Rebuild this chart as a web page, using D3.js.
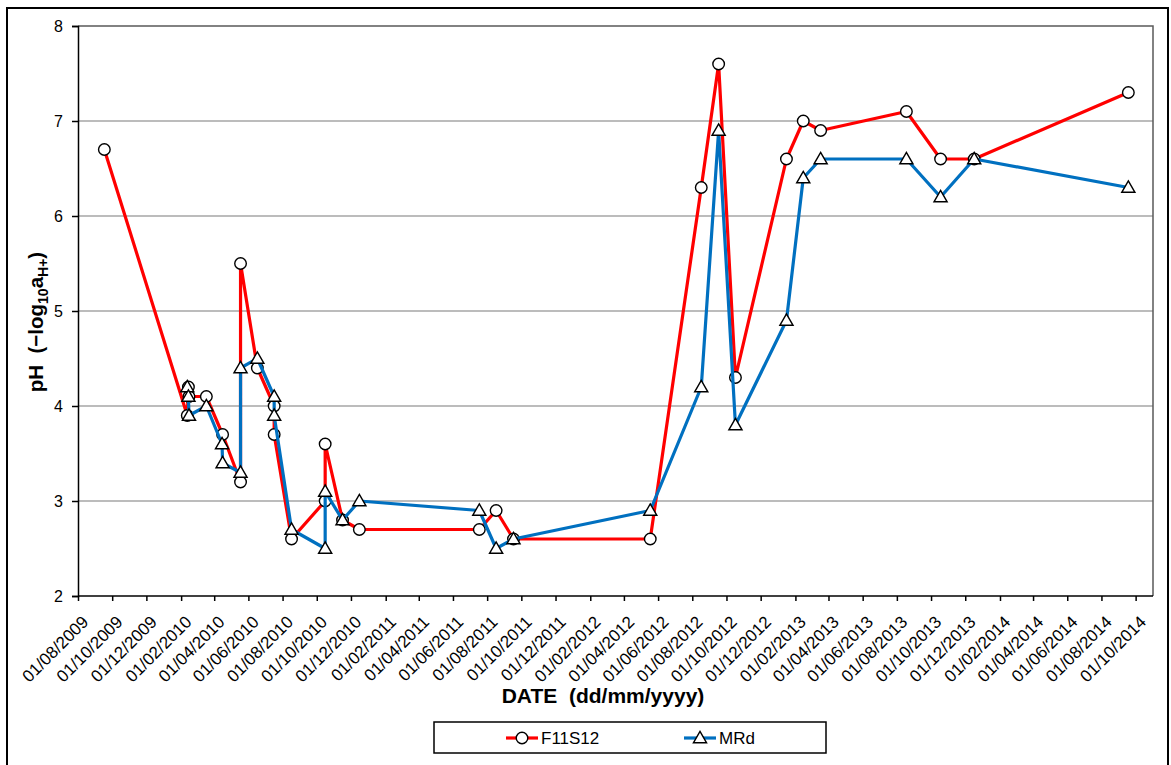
<!DOCTYPE html>
<html>
<head>
<meta charset="utf-8">
<script src="https://cdn.jsdelivr.net/npm/d3@7"></script>
<style>
  html, body { margin: 0; padding: 0; background: #fff; }
  svg text { font-family: Arial, "Liberation Sans", sans-serif; white-space: pre; }
</style>
</head>
<body>
<svg id="chart" width="1171" height="765"></svg>
<script>
// Sampling dates and pH readings for the two monitoring points
const f11Dates = ["2009-09-17", "2010-02-12", "2010-02-14", "2010-02-15", "2010-03-18",
  "2010-04-16", "2010-05-18", "2010-05-18", "2010-06-17", "2010-07-17", "2010-07-17",
  "2010-08-17", "2010-10-16", "2010-10-16", "2010-11-16", "2010-12-16", "2011-07-18",
  "2011-08-17", "2011-09-17", "2012-05-18", "2012-08-17", "2012-09-17", "2012-10-17",
  "2013-01-16", "2013-02-15", "2013-03-18", "2013-08-18", "2013-10-18", "2013-12-17",
  "2014-09-18"];
const f11Ph = [6.7, 3.9, 4.2, 4.1, 4.1,
  3.7, 3.2, 5.5, 4.4, 4.0, 3.7,
  2.6, 3.0, 3.6, 2.8, 2.7, 2.7,
  2.9, 2.6, 2.6, 6.3, 7.6, 4.3,
  6.6, 7.0, 6.9, 7.1, 6.6, 6.6,
  7.3];

const mrdDates = ["2010-02-12", "2010-02-14", "2010-02-15", "2010-03-18", "2010-04-15",
  "2010-04-16", "2010-05-18", "2010-05-18", "2010-06-17", "2010-07-17", "2010-07-17",
  "2010-08-17", "2010-10-16", "2010-10-16", "2010-11-16", "2010-12-16", "2011-07-18",
  "2011-08-17", "2011-09-17", "2012-05-18", "2012-08-17", "2012-09-17", "2012-10-17",
  "2013-01-16", "2013-02-15", "2013-03-18", "2013-08-18", "2013-10-18", "2013-12-17",
  "2014-09-18"];
const mrdPh = [4.2, 4.1, 3.9, 4.0, 3.6,
  3.4, 3.3, 4.4, 4.5, 4.1, 3.9,
  2.7, 2.5, 3.1, 2.8, 3.0, 2.9,
  2.5, 2.6, 2.9, 4.2, 6.9, 3.8,
  4.9, 6.4, 6.6, 6.6, 6.2, 6.6,
  6.3];

const seriesNames = ["F11S12", "MRd"];
const seriesColors = ["#ff0000", "#0070c0"];
const yTicks = [2, 3, 4, 5, 6, 7, 8];
const xStart = "2009-08-01", xEnd = "2014-11-01", xLastTick = "2014-10-01";

const parse = d3.utcParse("%Y-%m-%d");
const fmt = d3.utcFormat("%d/%m/%Y");

const svg = d3.select("#chart");
const L = 78, R = 1153, T = 26, B = 596;

const x = d3.scaleUtc().domain([parse(xStart), parse(xEnd)]).range([L, R]);
const y = d3.scaleLinear().domain([2, 8]).range([B, T]);

// outer frame
svg.append("rect").attr("x", 7).attr("y", 8).attr("width", 1161).attr("height", 800)
  .attr("fill", "none").attr("stroke", "#000").attr("stroke-width", 2);

// horizontal gridlines
svg.append("g").selectAll("line").data(yTicks.filter(v => v > 2 && v < 8)).join("line")
  .attr("x1", L).attr("x2", R).attr("y1", d => y(d)).attr("y2", d => y(d))
  .attr("stroke", "#a6a6a6").attr("stroke-width", 1.5);

// plot area border (top and right)
svg.append("path").attr("d", `M${L},${T}H${R}V${B}`)
  .attr("fill", "none").attr("stroke", "#5a5a5a").attr("stroke-width", 1.5);

// y axis
const yAxis = svg.append("g").attr("transform", `translate(${L},0)`)
  .call(d3.axisLeft(y).tickValues(yTicks).tickFormat(d3.format("d")).tickSize(6).tickPadding(9));
yAxis.select(".domain").attr("stroke", "#000").attr("stroke-width", 1.5);
yAxis.selectAll(".tick line").attr("stroke", "#000").attr("stroke-width", 1.5);
yAxis.selectAll(".tick text").attr("font-size", 16).attr("fill", "#000")
  .style("font-family", "Arial, 'Liberation Sans', sans-serif");

// x axis: a tick every second month from the axis start
const xTickVals = d3.utcMonth.range(parse(xStart), d3.utcDay.offset(parse(xLastTick), 1), 2);
const xAxis = svg.append("g").attr("transform", `translate(0,${B})`)
  .call(d3.axisBottom(x).tickValues(xTickVals).tickFormat(fmt).tickSize(5));
xAxis.select(".domain").attr("stroke", "#000").attr("stroke-width", 1.5)
  .attr("d", `M${L},0H${R}`);
xAxis.selectAll(".tick line").attr("stroke", "#000").attr("stroke-width", 1.5);
xAxis.selectAll(".tick text")
  .attr("font-size", 17).attr("fill", "#000")
  .style("font-family", "Arial, 'Liberation Sans', sans-serif")
  .attr("text-anchor", "end").attr("dy", null).attr("y", 0)
  .attr("transform", "translate(11,27) rotate(-45)");

// axis titles
svg.append("text").attr("x", 603).attr("y", 703).attr("text-anchor", "middle")
  .attr("font-size", 21).attr("font-weight", "bold").text("DATE  (dd/mm/yyyy)");

const yTitle = svg.append("text").attr("transform", "translate(43,322) rotate(-90)")
  .attr("text-anchor", "middle").attr("font-size", 20.5).attr("font-weight", "bold");
yTitle.append("tspan").text("pH  (\u2212log");
yTitle.append("tspan").attr("font-size", 14).attr("dy", 5).text("10");
yTitle.append("tspan").attr("dy", -5).text("a");
yTitle.append("tspan").attr("font-size", 14).attr("dy", 5).text("H+");
yTitle.append("tspan").attr("dy", -5).text(")");

// series
const series = [
  { name: seriesNames[0], color: seriesColors[0], marker: "circle",
    pts: f11Dates.map((d, i) => ({ date: parse(d), v: f11Ph[i] })) },
  { name: seriesNames[1], color: seriesColors[1], marker: "triangle",
    pts: mrdDates.map((d, i) => ({ date: parse(d), v: mrdPh[i] })) }
];

const line = d3.line().x(d => x(d.date)).y(d => y(d.v));
const circleSym = d3.symbol().type(d3.symbolCircle).size(105);
const triSym = d3.symbol().type(d3.symbolTriangle).size(75);

function drawMarker(sel, kind) {
  sel.append("path")
    .attr("d", kind === "circle" ? circleSym() : triSym())
    .attr("fill", "#fff").attr("stroke", "#000").attr("stroke-width", 1.4);
}

series.forEach(s => {
  const g = svg.append("g");
  g.append("path").datum(s.pts).attr("d", line)
    .attr("fill", "none").attr("stroke", s.color).attr("stroke-width", 3.2)
    .attr("stroke-linejoin", "round");
  g.selectAll("g.m").data(s.pts).join("g").attr("class", "m")
    .attr("transform", d => `translate(${x(d.date)},${y(d.v) + (s.marker === "triangle" ? 1 : 0)})`)
    .each(function () { drawMarker(d3.select(this), s.marker); });
});

// legend
const lg = svg.append("g");
lg.append("rect").attr("x", 434).attr("y", 722).attr("width", 392).attr("height", 31)
  .attr("fill", "#fff").attr("stroke", "#000").attr("stroke-width", 1.5);
const legendX = [506, 684];
series.forEach((s, i) => {
  const ly = 738;
  lg.append("line").attr("x1", legendX[i]).attr("x2", legendX[i] + 32).attr("y1", ly).attr("y2", ly)
    .attr("stroke", s.color).attr("stroke-width", 3.2);
  const m = lg.append("g").attr("transform", `translate(${legendX[i] + 16},${ly + (s.marker === "triangle" ? 1 : 0)})`);
  drawMarker(m, s.marker);
  lg.append("text").attr("x", legendX[i] + 35).attr("y", ly + 6).attr("font-size", 17).text(s.name);
});
</script>
</body>
</html>
